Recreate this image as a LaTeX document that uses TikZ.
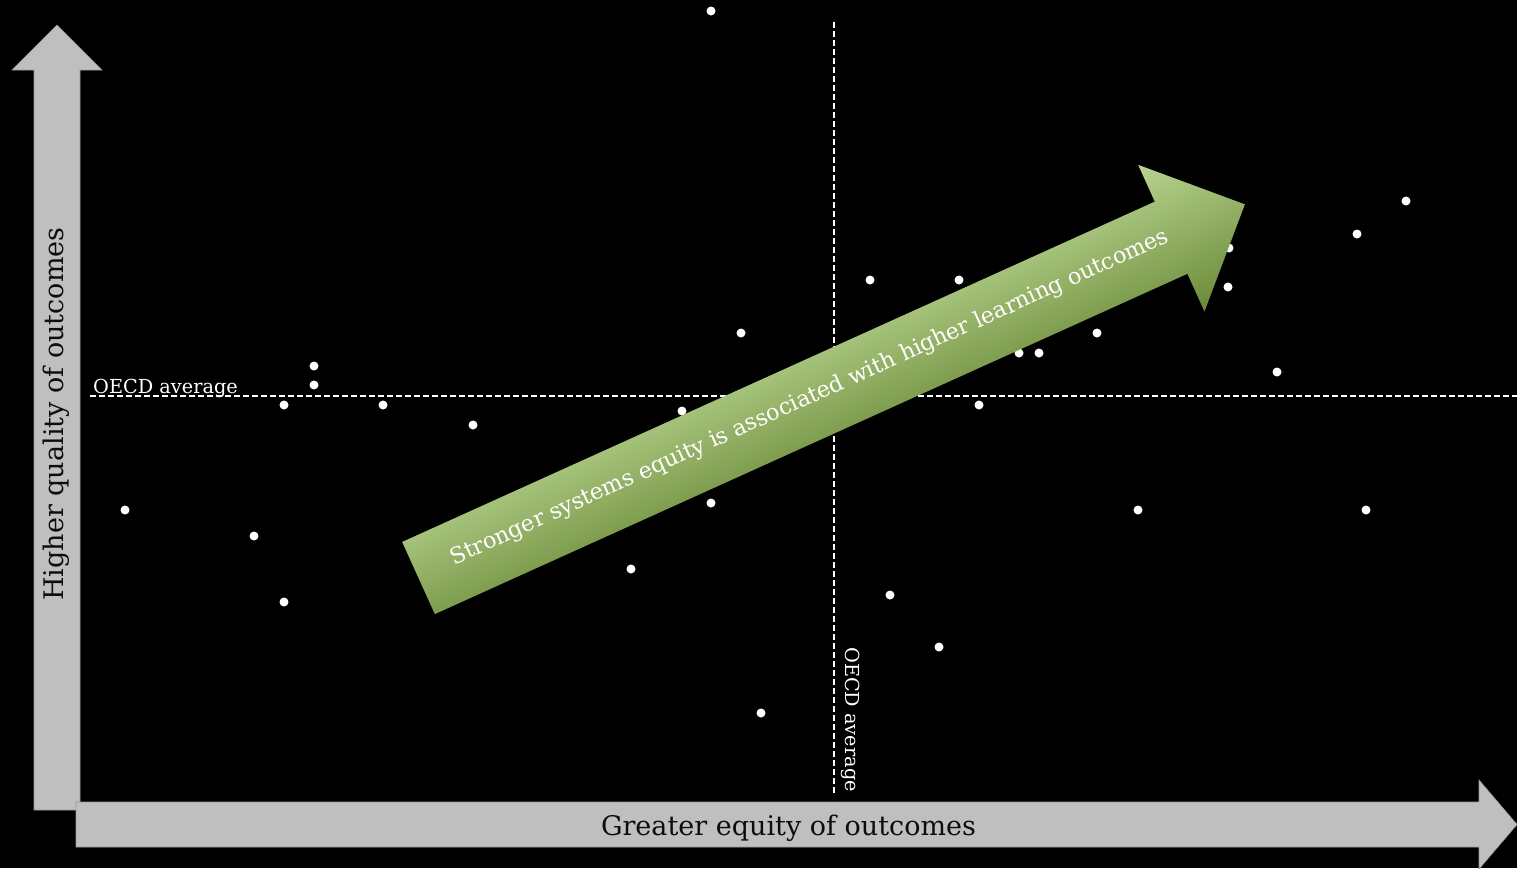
\documentclass[tikz,border=0pt]{standalone}
\usepackage{fontspec}
\setmainfont{DejaVu Serif}
\definecolor{axisgray}{HTML}{BFBFBF}
\definecolor{axisedge}{HTML}{9A9A9A}
\definecolor{glight}{HTML}{B8D490}
\definecolor{gmid}{HTML}{9BBB59}
\definecolor{gdark}{HTML}{6B8A38}
\definecolor{labeldark}{HTML}{0D0D0D}
\tikzset{
  axisarrow/.style={fill=axisgray, draw=axisedge, line width=0.6pt},
  avgline/.style={white, line width=1.5pt, dash pattern=on 6pt off 3pt},
  datadot/.style={white},
  avglabel/.style={text=white, font=\fontsize{19.3}{23}\selectfont, inner sep=0pt},
  axislabel/.style={text=labeldark, font=\fontsize{27}{32}\selectfont, inner sep=0pt},
  trendlabel/.style={text=white, font=\fontsize{22.4}{27}\selectfont, inner sep=0pt}
}
\begin{document}
\begin{tikzpicture}[x=1pt,y=-1pt]
\useasboundingbox (0,0) rectangle (1517,868);
\fill[black] (0,0) rectangle (1517,868);
% axis arrows
\path[axisarrow] (34,810) -- (34,70) -- (12,70) -- (57,25) -- (102,70) -- (80,70) -- (80,810) -- cycle;
\path[axisarrow] (76,802) -- (1479,802) -- (1479,780) -- (1517,824.5) -- (1479,869) -- (1479,847) -- (76,847) -- cycle;
\node[axislabel, anchor=base] (xlab) at (788.5,835) {Greater equity of outcomes};
\node[axislabel, anchor=base, rotate=90] (ylab) at (63,414) {Higher quality of outcomes};
% average lines
\draw[avgline] (90,396) -- (1517,396);
\draw[avgline] (834,22) -- (834,796);
\node[avglabel, anchor=base west] (havg) at (93,393) {OECD average};
\node[avglabel, anchor=base west, rotate=-90] (vavg) at (845,647) {OECD average};
% data points
\foreach \p in {(711,11),(741,333),(870,280),(959,280),(1229,248),(1228,287),(1357,234),(1406,201),
  (1019,353),(1039,353),(1097,333),(1277,372),(979,405),(1138,510),(1366,510),(314,366),(314,385),
  (284,405),(383,405),(473,425),(682,411),(711,503),(125,510),(254,536),(284,602),(631,569),
  (890,595),(939,647),(761,713)}
  \fill[datadot] \p circle[radius=4.5pt];
% trend arrow
\begin{scope}[transform canvas={shift={(418.5,578)}, rotate=24.33}]
  \shade[top color=glight, middle color=gmid, bottom color=gdark]
    (0,-39.6) -- (826,-39.6) -- (826,-80) -- (907,0) -- (826,81) -- (826,39.6) -- (0,39.6) -- cycle;
  \node[trendlabel, anchor=base] (trend) at (431,3) {Stronger systems equity is associated with higher learning outcomes};
\end{scope}
\end{tikzpicture}
\end{document}
